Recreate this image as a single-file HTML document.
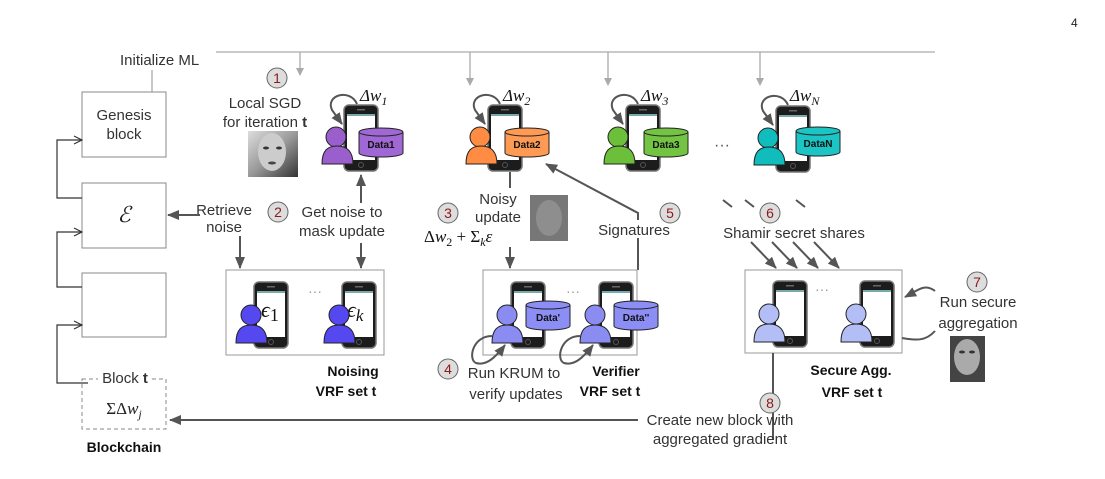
<!DOCTYPE html>
<html><head><meta charset="utf-8"><style>
html,body{margin:0;padding:0;background:#fff;}
svg{display:block;font-family:"Liberation Sans",sans-serif;}
.t{font-size:15px;fill:#333;}
.b{font-size:14px;font-weight:bold;fill:#111;}
.m{font-family:"Liberation Serif",serif;font-style:italic;font-size:17px;fill:#111;}
.d{font-size:10px;font-weight:bold;fill:#111;}
.n{font-size:14px;fill:#8b1a1a;}
</style></head><body>
<svg width="1105" height="479" viewBox="0 0 1105 479" xmlns="http://www.w3.org/2000/svg">
<defs>
<marker id="ag" markerWidth="8" markerHeight="8" refX="7" refY="4" orient="auto" markerUnits="userSpaceOnUse"><path d="M0,0 L8,4 L0,8 Z" fill="#aaa"/></marker>
<marker id="ad" markerWidth="12" markerHeight="10" refX="11" refY="5" orient="auto" markerUnits="userSpaceOnUse"><path d="M0,0 L12,5 L0,10 Z" fill="#555"/></marker>
<marker id="ao" markerWidth="10" markerHeight="10" refX="9" refY="5" orient="auto" markerUnits="userSpaceOnUse"><path d="M1,1 L9,5 L1,9" fill="none" stroke="#333" stroke-width="1.2"/></marker>
<g id="ph"><rect x="0" y="0" width="34" height="66" rx="5" fill="#1c1c1c" stroke="#777" stroke-width="1.5"/><rect x="3" y="9" width="28" height="46" fill="#fff"/><rect x="3" y="9" width="28" height="2" fill="#7aa"/><rect x="13" y="4" width="8" height="1.5" fill="#666"/><circle cx="17" cy="60" r="2.5" fill="none" stroke="#555"/></g>
<linearGradient id="fg" x1="0" y1="0" x2="1" y2="1"><stop offset="0" stop-color="#ddd"/><stop offset="0.5" stop-color="#999"/><stop offset="1" stop-color="#333"/></linearGradient>
</defs>

<text x="1071" y="27" font-size="12" fill="#222">4</text>

<text x="120" y="65" class="t">Initialize ML</text>
<path d="M216,52 H935" stroke="#aaa" stroke-width="1.3" fill="none"/>
<path d="M300,52 V75" stroke="#aaa" stroke-width="1.3" marker-end="url(#ag)"/>
<path d="M470,52 V85" stroke="#aaa" stroke-width="1.3" marker-end="url(#ag)"/>
<path d="M608,52 V85" stroke="#aaa" stroke-width="1.3" marker-end="url(#ag)"/>
<path d="M760,52 V85" stroke="#aaa" stroke-width="1.3" marker-end="url(#ag)"/>
<path d="M152,70 V92" stroke="#aaa" stroke-width="1.3"/>

<rect x="82" y="92" width="84" height="65" fill="#fff" stroke="#888"/>
<text x="124" y="120" class="t" text-anchor="middle" font-size="14">Genesis</text>
<text x="124" y="139" class="t" text-anchor="middle" font-size="14">block</text>
<rect x="82" y="183" width="84" height="65" fill="#fff" stroke="#888"/>
<text x="124" y="222" text-anchor="middle" font-family="Liberation Serif,serif" font-style="italic" font-size="22" fill="#222">ℰ</text>
<rect x="82" y="273" width="84" height="64" fill="#fff" stroke="#888"/>
<rect x="82" y="379" width="84" height="50" fill="#fff" stroke="#888" stroke-dasharray="4,3"/>
<rect x="98" y="372" width="54" height="14" fill="#fff"/>
<text x="125" y="383" class="t" text-anchor="middle" font-size="14">Block <tspan font-weight="bold">t</tspan></text>
<text x="124" y="414" text-anchor="middle" font-family="Liberation Serif,serif" font-size="17" fill="#222">ΣΔ<tspan font-style="italic">w<tspan font-size="12" dy="4">j</tspan></tspan></text>
<text x="124" y="452" class="b" text-anchor="middle">Blockchain</text>
<path d="M82,198 H57 V140 H82" fill="none" stroke="#333" stroke-width="1.2" marker-end="url(#ao)"/>
<path d="M82,287 H57 V232 H82" fill="none" stroke="#333" stroke-width="1.2" marker-end="url(#ao)"/>
<path d="M88,383 H57 V325 H82" fill="none" stroke="#333" stroke-width="1.2" marker-end="url(#ao)"/>

<circle cx="277" cy="78" r="10" fill="#ddd" stroke="#666"/><text x="277" y="83" class="n" text-anchor="middle">1</text>
<text x="265" y="108" class="t" text-anchor="middle">Local SGD</text>
<text x="265" y="127" class="t" text-anchor="middle">for iteration <tspan font-weight="bold">t</tspan></text>
<rect x="248" y="131" width="50" height="46" fill="url(#fg)"/>
<ellipse cx="272" cy="152" rx="14" ry="19" fill="#ccc"/><ellipse cx="266" cy="148" rx="3" ry="1.5" fill="#333"/><ellipse cx="279" cy="148" rx="3" ry="1.5" fill="#333"/><ellipse cx="272" cy="163" rx="4" ry="1.5" fill="#444"/>

<g>
<use href="#ph" x="344" y="105"/>
<path d="M357,104 C350,88 325,95 332,110 L342,124" fill="none" stroke="#555" stroke-width="2" marker-end="url(#ad)"/>
<text x="360" y="101" class="m">Δw<tspan font-size="12" dy="4">1</tspan></text>
<circle cx="336" cy="137" r="10" fill="#9a5fcc" stroke="#222"/>
<path d="M322,164 C322,150 328,146 337,146 C346,146 353,150 353,164 Z" fill="#9a5fcc" stroke="#222"/>
<path d="M359,132 v21 a22,4 0 0 0 44,0 v-21" fill="#a068d4" stroke="#222"/><ellipse cx="381" cy="132" rx="22" ry="4" fill="#a068d4" stroke="#222"/>
<text x="381" y="148" class="d" text-anchor="middle">Data1</text>
</g>
<g>
<use href="#ph" x="488" y="105"/>
<path d="M500,104 C493,88 468,95 475,110 L485,124" fill="none" stroke="#555" stroke-width="2" marker-end="url(#ad)"/>
<text x="503" y="101" class="m">Δw<tspan font-size="12" dy="4">2</tspan></text>
<circle cx="480" cy="137" r="10" fill="#ff8c42" stroke="#222"/>
<path d="M466,164 C466,150 472,146 481,146 C490,146 497,150 497,164 Z" fill="#ff8c42" stroke="#222"/>
<path d="M505,132 v21 a22,4 0 0 0 44,0 v-21" fill="#ff9a55" stroke="#222"/><ellipse cx="527" cy="132" rx="22" ry="4" fill="#ff9a55" stroke="#222"/>
<text x="527" y="148" class="d" text-anchor="middle">Data2</text>
</g>
<g>
<use href="#ph" x="626" y="105"/>
<path d="M638,104 C631,88 606,95 613,110 L623,124" fill="none" stroke="#555" stroke-width="2" marker-end="url(#ad)"/>
<text x="641" y="101" class="m">Δw<tspan font-size="12" dy="4">3</tspan></text>
<circle cx="618" cy="137" r="10" fill="#6cbf3a" stroke="#222"/>
<path d="M604,164 C604,150 610,146 619,146 C628,146 635,150 635,164 Z" fill="#6cbf3a" stroke="#222"/>
<path d="M644,132 v21 a22,4 0 0 0 44,0 v-21" fill="#74c444" stroke="#222"/><ellipse cx="666" cy="132" rx="22" ry="4" fill="#74c444" stroke="#222"/>
<text x="666" y="148" class="d" text-anchor="middle">Data3</text>
</g>
<text x="722" y="150" font-size="16" fill="#555" text-anchor="middle">···</text>
<g>
<use href="#ph" x="776" y="106"/>
<path d="M788,105 C781,89 756,96 763,111 L773,125" fill="none" stroke="#555" stroke-width="2" marker-end="url(#ad)"/>
<text x="790" y="101" class="m">Δw<tspan font-size="12" dy="4">N</tspan></text>
<circle cx="768" cy="138" r="10" fill="#10bcbc" stroke="#222"/>
<path d="M754,165 C754,151 760,147 769,147 C778,147 785,151 785,165 Z" fill="#10bcbc" stroke="#222"/>
<path d="M796,131 v21 a22,4 0 0 0 44,0 v-21" fill="#1cc4c4" stroke="#222"/><ellipse cx="818" cy="131" rx="22" ry="4" fill="#1cc4c4" stroke="#222"/>
<text x="818" y="147" class="d" text-anchor="middle">DataN</text>
</g>

<text x="224" y="215" class="t" text-anchor="middle">Retrieve</text>
<text x="224" y="232" class="t" text-anchor="middle">noise</text>
<path d="M200,215 H168" stroke="#555" stroke-width="2" marker-end="url(#ad)"/>
<path d="M240,236 V268" stroke="#555" stroke-width="2" marker-end="url(#ad)"/>
<circle cx="278" cy="212" r="10" fill="#ddd" stroke="#666"/><text x="278" y="217" class="n" text-anchor="middle">2</text>
<text x="342" y="217" class="t" text-anchor="middle">Get noise to</text>
<text x="342" y="236" class="t" text-anchor="middle">mask update</text>
<path d="M361,203 V175" stroke="#555" stroke-width="2" marker-end="url(#ad)"/>
<path d="M361,243 V268" stroke="#555" stroke-width="2" marker-end="url(#ad)"/>

<rect x="226" y="270" width="158" height="85" fill="#fff" stroke="#999"/>
<use href="#ph" x="254" y="282"/>
<text x="261" y="317" font-family="Liberation Serif,serif" font-style="italic" font-size="22" fill="#111">ϵ<tspan font-style="normal" font-size="18" dy="4">1</tspan></text>
<circle cx="251" cy="315" r="10" fill="#5548f0" stroke="#222"/>
<path d="M236,343 C236,329 242,325 251,325 C260,325 267,329 267,343 Z" fill="#5548f0" stroke="#222"/>
<text x="315" y="296" font-size="14" fill="#999" text-anchor="middle">···</text>
<use href="#ph" x="342" y="282"/>
<text x="347" y="317" font-family="Liberation Serif,serif" font-style="italic" font-size="22" fill="#111">ϵ<tspan font-size="17" dy="4">k</tspan></text>
<circle cx="339" cy="315" r="10" fill="#5548f0" stroke="#222"/>
<path d="M324,343 C324,329 330,325 339,325 C348,325 355,329 355,343 Z" fill="#5548f0" stroke="#222"/>
<text x="353" y="376" class="b" text-anchor="middle">Noising</text>
<text x="346" y="396" class="b" text-anchor="middle">VRF set t</text>

<path d="M510,172 V188" stroke="#555" stroke-width="2"/>
<circle cx="448" cy="213" r="10" fill="#ddd" stroke="#666"/><text x="448" y="218" class="n" text-anchor="middle">3</text>
<text x="498" y="204" class="t" text-anchor="middle">Noisy</text>
<text x="498" y="222" class="t" text-anchor="middle">update</text>
<text x="424" y="242" font-family="Liberation Serif,serif" font-size="17" fill="#111">Δ<tspan font-style="italic">w</tspan><tspan font-size="12" dy="4">2</tspan><tspan dy="-4"> + Σ</tspan><tspan font-size="12" font-style="italic" dy="4">k</tspan><tspan font-style="italic" dy="-4">ε</tspan></text>
<rect x="530" y="195" width="38" height="46" fill="#777"/>
<ellipse cx="549" cy="218" rx="13" ry="18" fill="#999" opacity="0.7"/>
<path d="M510,247 V268" stroke="#555" stroke-width="2" marker-end="url(#ad)"/>

<path d="M638,270 V213 L546,164" fill="none" stroke="#555" stroke-width="2" marker-end="url(#ad)"/>
<rect x="592" y="220" width="82" height="18" fill="#fff"/>
<text x="634" y="235" class="t" text-anchor="middle">Signatures</text>
<circle cx="670" cy="213" r="10" fill="#ddd" stroke="#666"/><text x="670" y="218" class="n" text-anchor="middle">5</text>

<rect x="483" y="270" width="154" height="85" fill="#fff" stroke="#999"/>
<use href="#ph" x="511" y="282"/>
<path d="M526,305 v21 a22,4 0 0 0 44,0 v-21" fill="#8c8ef5" stroke="#222"/><ellipse cx="548" cy="305" rx="22" ry="4" fill="#8c8ef5" stroke="#222"/>
<text x="548" y="321" class="d" text-anchor="middle">Data'</text>
<circle cx="507" cy="315" r="10" fill="#8a8cf2" stroke="#222"/>
<path d="M492,343 C492,329 498,325 507,325 C516,325 523,329 523,343 Z" fill="#8a8cf2" stroke="#222"/>
<text x="573" y="296" font-size="14" fill="#999" text-anchor="middle">···</text>
<use href="#ph" x="599" y="282"/>
<path d="M614,305 v21 a22,4 0 0 0 44,0 v-21" fill="#8c8ef5" stroke="#222"/><ellipse cx="636" cy="305" rx="22" ry="4" fill="#8c8ef5" stroke="#222"/>
<text x="636" y="321" class="d" text-anchor="middle">Data''</text>
<circle cx="595" cy="315" r="10" fill="#8a8cf2" stroke="#222"/>
<path d="M580,343 C580,329 586,325 595,325 C604,325 611,329 611,343 Z" fill="#8a8cf2" stroke="#222"/>
<path d="M492,336 C472,336 468,360 476,363 C486,366 495,358 505,345" fill="none" stroke="#555" stroke-width="2" marker-end="url(#ad)"/>
<path d="M580,336 C560,336 556,360 564,363 C574,366 583,358 593,345" fill="none" stroke="#555" stroke-width="2" marker-end="url(#ad)"/>
<text x="616" y="376" class="b" text-anchor="middle">Verifier</text>
<text x="610" y="396" class="b" text-anchor="middle">VRF set t</text>
<circle cx="448" cy="369" r="10" fill="#ddd" stroke="#666"/><text x="448" y="374" class="n" text-anchor="middle">4</text>
<text x="514" y="378" class="t" text-anchor="middle">Run KRUM to</text>
<text x="516" y="399" class="t" text-anchor="middle">verify updates</text>

<circle cx="770" cy="213" r="10" fill="#ddd" stroke="#666"/><text x="770" y="218" class="n" text-anchor="middle">6</text>
<path d="M723,200 L732,207 M745,200 L754,207 M796,200 L805,207" stroke="#555" stroke-width="2"/>
<text x="794" y="238" class="t" text-anchor="middle">Shamir secret shares</text>
<path d="M751,242 L776,268" stroke="#555" stroke-width="2" marker-end="url(#ad)"/>
<path d="M772,242 L797,268" stroke="#555" stroke-width="2" marker-end="url(#ad)"/>
<path d="M793,242 L818,268" stroke="#555" stroke-width="2" marker-end="url(#ad)"/>
<path d="M814,242 L839,268" stroke="#555" stroke-width="2" marker-end="url(#ad)"/>

<rect x="745" y="270" width="157" height="83" fill="#fff" stroke="#999"/>
<use href="#ph" x="773" y="281"/>
<circle cx="769" cy="314" r="10" fill="#b4bef6" stroke="#222"/>
<path d="M754,342 C754,328 760,324 769,324 C778,324 785,328 785,342 Z" fill="#b4bef6" stroke="#222"/>
<text x="822" y="294" font-size="14" fill="#999" text-anchor="middle">···</text>
<use href="#ph" x="860" y="281"/>
<circle cx="856" cy="314" r="10" fill="#b4bef6" stroke="#222"/>
<path d="M841,342 C841,328 847,324 856,324 C865,324 872,328 872,342 Z" fill="#b4bef6" stroke="#222"/>
<text x="851" y="375" class="b" text-anchor="middle">Secure Agg.</text>
<text x="852" y="397" class="b" text-anchor="middle">VRF set t</text>
<circle cx="977" cy="282" r="10" fill="#ddd" stroke="#666"/><text x="977" y="287" class="n" text-anchor="middle">7</text>
<text x="978" y="307" class="t" text-anchor="middle">Run secure</text>
<text x="978" y="328" class="t" text-anchor="middle">aggregation</text>
<path d="M935,291 C925,283 918,290 905,297" fill="none" stroke="#555" stroke-width="2" marker-end="url(#ad)"/>
<path d="M902,338 C915,340 925,342 935,331" fill="none" stroke="#555" stroke-width="2"/>
<rect x="950" y="336" width="35" height="46" fill="#444"/>
<ellipse cx="967" cy="357" rx="13" ry="18" fill="#aaa"/>
<ellipse cx="962" cy="352" rx="3" ry="1.5" fill="#333"/><ellipse cx="972" cy="352" rx="3" ry="1.5" fill="#333"/>

<path d="M773,353 V440" stroke="#555" stroke-width="2"/>
<circle cx="770" cy="403" r="10" fill="#ddd" stroke="#666"/><text x="770" y="408" class="n" text-anchor="middle">8</text>
<text x="720" y="425" class="t" text-anchor="middle">Create new block with</text>
<text x="720" y="444" class="t" text-anchor="middle">aggregated gradient</text>
<path d="M638,420 H170" stroke="#555" stroke-width="2" marker-end="url(#ad)"/>
</svg>
</body></html>
